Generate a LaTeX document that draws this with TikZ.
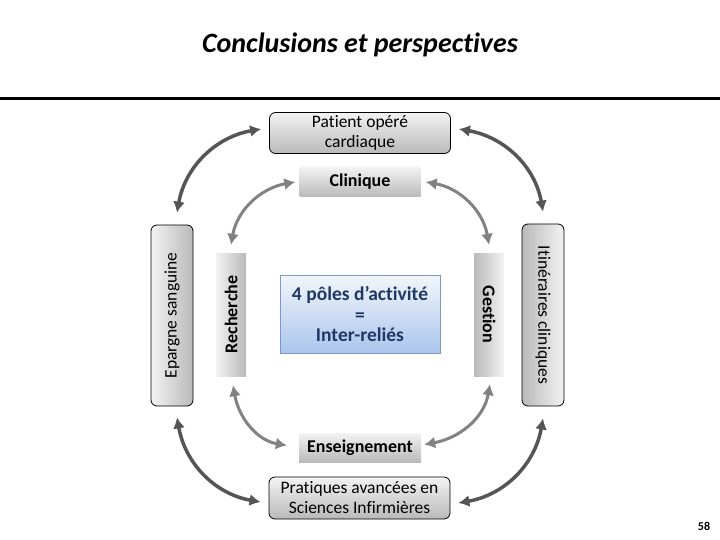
\documentclass[tikz,border=0pt]{standalone}
\usepackage{fontspec}
\setmainfont{Carlito}[Ligatures=NoCommon]
\usetikzlibrary{arrows.meta}
\definecolor{boxtop}{RGB}{243,243,243}
\definecolor{boxbot}{RGB}{185,185,185}
\definecolor{outerarr}{RGB}{85,85,85}
\definecolor{innerarr}{RGB}{130,130,130}
\definecolor{poletop}{RGB}{242,246,252}
\definecolor{polebot}{RGB}{170,197,236}
\definecolor{poleline}{RGB}{125,152,200}
\definecolor{poletext}{RGB}{31,56,100}
\tikzset{
	graybox/.style={draw=black, line width=0.8pt, rounded corners=6pt, top color=boxtop, bottom color=boxbot, align=center, inner sep=0pt, font=\fontsize{17.5}{20}\selectfont},
	flatbox/.style={top color=boxtop, bottom color=boxbot, inner sep=0pt, font=\fontsize{18}{20}\selectfont\bfseries},
	outerarrow/.style={<->, draw=outerarr, line width=3.5pt},
	innerarrow/.style={<->, draw=innerarr, line width=3pt},
	>={Latex[length=11pt,width=12pt]}
}
\begin{document}
\begin{tikzpicture}[x=1pt, y=-1pt]
			\useasboundingbox (0,0) rectangle (720,540);
			\node[anchor=base, font=\fontsize{28}{32}\selectfont\bfseries\itshape] (title) at (360,53) {Conclusions et perspectives};
			\draw[line width=3pt] (0,99) -- (720,99);

			\node[graybox, minimum width=181, minimum height=41] (patient) at (360,133) {Patient opéré\\cardiaque};
			\node[flatbox, minimum width=121, minimum height=30] (clinique) at (360,182) {Clinique};
			\node[graybox, left color=boxtop, right color=boxbot, minimum width=42, minimum height=181] (epargne) at (172,315.5) {\rotatebox{90}{Epargne sanguine}};
			\node[flatbox, left color=boxtop, right color=boxbot, minimum width=30, minimum height=123] (recherche) at (231,314.5) {\rotatebox{90}{Recherche}};
			\node[draw=poleline, line width=1pt, top color=poletop, bottom color=polebot, text=poletext, align=center, minimum width=160, minimum height=78, inner sep=0pt, font=\fontsize{19.5}{20.5}\selectfont\bfseries] (pole) at (360,314) {4 pôles d’activité\\=\\Inter-reliés};
			\node[flatbox, left color=boxbot, right color=boxtop, minimum width=30, minimum height=123] (gestion) at (489,314.5) {\rotatebox{-90}{Gestion}};
			\node[graybox, left color=boxbot, right color=boxtop, minimum width=42, minimum height=182] (itineraire) at (543,315) {\rotatebox{-90}{Itinéraires cliniques}};
			\node[flatbox, minimum width=122, minimum height=29] (enseignement) at (360,447.5) {Enseignement};
			\node[graybox, minimum width=181, minimum height=42] (pratiques) at (359.5,498) {Pratiques avancées en\\Sciences Infirmières};
			\node[anchor=base, font=\fontsize{12}{14}\selectfont\bfseries] (pagenum) at (704,530) {58};

			\draw[outerarrow] ([xshift=-8pt,yshift=4pt]patient.west) to[out=190, in=80] ([xshift=5pt,yshift=12pt]epargne.north);
			\draw[outerarrow] ([xshift=8pt,yshift=4pt]patient.east) to[out=-10, in=100] ([yshift=12pt]itineraire.north);
			\draw[outerarrow] ([xshift=5pt,yshift=-11pt]epargne.south) to[out=-80, in=170] ([xshift=-8pt,yshift=-4pt]pratiques.west);
			\draw[outerarrow] ([xshift=8pt,yshift=-5pt]pratiques.east) to[out=10, in=-100] ([yshift=-12pt]itineraire.south);

			\draw[innerarrow] ([xshift=-4pt]clinique.west) to[out=190, in=80] ([yshift=8pt]recherche.north);
			\draw[innerarrow] ([xshift=5pt]clinique.east) to[out=-10, in=100] ([yshift=8pt]gestion.north);
			\draw[innerarrow] ([xshift=2pt,yshift=-9pt]recherche.south) to[out=-80, in=170] ([xshift=-12pt,yshift=2pt]enseignement.west);
			\draw[innerarrow] ([xshift=3pt,yshift=3pt]enseignement.east) to[out=10, in=-100] ([xshift=1pt,yshift=-8pt]gestion.south);
		\end{tikzpicture}
\end{document}
